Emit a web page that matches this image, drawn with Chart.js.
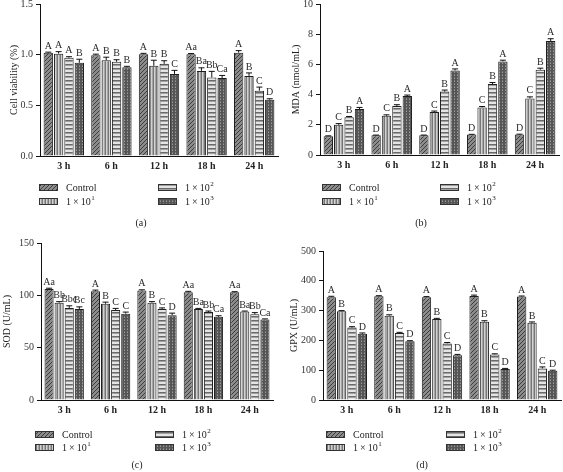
<!DOCTYPE html>
<html>
<head>
<meta charset="utf-8">
<script src="https://cdn.jsdelivr.net/npm/chart.js@4.4.0/dist/chart.umd.min.js"></script>
<style>
  body { margin: 0; background: #fff; width: 563px; height: 472px; position: relative; overflow: hidden; }
  .plot { position: absolute; }
</style>
</head>
<body>
<canvas id="chartA" class="plot"></canvas>
<canvas id="chartB" class="plot"></canvas>
<canvas id="chartC" class="plot"></canvas>
<canvas id="chartD" class="plot"></canvas>

<script>
// ---------- data ----------
const timePoints = ['3 h', '6 h', '12 h', '18 h', '24 h'];
const groupNames = ['Control', '1\u2009×\u200910', '1\u2009×\u200910', '1\u2009×\u200910'];
const groupExponents = ['', '1', '2', '3'];

// (a) cell viability — one row per group
const viabilityMeans = [
    [1.02, 0.995, 1.005, 1.005, 1.02],
    [1.01, 0.945, 0.89, 0.84, 0.79],
    [0.97, 0.93, 0.91, 0.775, 0.645],
    [0.92, 0.875, 0.81, 0.77, 0.555]
];
const viabilityErrors = [
    [0.005, 0.01, 0.008, 0.006, 0.02],
    [0.02, 0.03, 0.055, 0.03, 0.03],
    [0.01, 0.02, 0.03, 0.06, 0.035],
    [0.035, 0.01, 0.035, 0.025, 0.01]
];
const viabilityLetters = [
    ['A', 'A', 'A', 'Aa', 'A'],
    ['A', 'B', 'B', 'Ba', 'B'],
    ['A', 'B', 'B', 'Bb', 'C'],
    ['B', 'B', 'C', 'Ca', 'D']
];

// (b) MDA
const mdaMeans = [
    [1.25, 1.3, 1.3, 1.35, 1.35],
    [2.0, 2.6, 2.85, 3.15, 3.75],
    [2.5, 3.25, 4.2, 4.7, 5.65],
    [3.05, 3.9, 5.6, 6.2, 7.55]
];
const mdaErrors = [
    [0.02, 0.02, 0.02, 0.02, 0.03],
    [0.08, 0.06, 0.06, 0.06, 0.1],
    [0.05, 0.08, 0.1, 0.1, 0.1],
    [0.1, 0.07, 0.1, 0.08, 0.15]
];
const mdaLetters = [
    ['D', 'D', 'D', 'D', 'D'],
    ['C', 'C', 'C', 'C', 'C'],
    ['B', 'B', 'B', 'B', 'B'],
    ['A', 'A', 'A', 'A', 'A']
];

// (c) SOD
const sodMeans = [
    [106, 104, 104.5, 103, 103],
    [93, 92, 93, 87, 84.5],
    [88, 86, 87, 84, 82],
    [87, 82.5, 81, 79.5, 77]
];
const sodErrors = [
    [0.8, 1, 0.8, 0.8, 0.5],
    [1, 1.5, 1, 0.5, 0.5],
    [2, 1.5, 1, 1, 1.5],
    [2, 1.5, 2, 1, 0.5]
];
const sodLetters = [
    ['Aa', 'A', 'A', 'Aa', 'Aa'],
    ['Bb', 'B', 'B', 'Ba', 'Ba'],
    ['Bbc', 'C', 'C', 'Bb', 'Bb'],
    ['Bc', 'C', 'D', 'Ca', 'Ca']
];

// (d) GPX
const gpxMeans = [
    [345, 348, 345, 349, 347],
    [298, 283, 272, 263, 259],
    [243, 225, 190, 153, 106],
    [222, 197, 150, 104, 98]
];
const gpxErrors = [
    [3, 2, 2, 3, 2],
    [2, 3, 2, 3, 3],
    [3, 2, 3, 2, 5],
    [3, 2, 3, 2, 2]
];
const gpxLetters = [
    ['A', 'A', 'A', 'A', 'A'],
    ['B', 'B', 'B', 'B', 'B'],
    ['C', 'C', 'C', 'C', 'C'],
    ['D', 'D', 'D', 'D', 'D']
];

const SERIF = '"Liberation Serif"';

/* ===========================================================
   FILL PATTERNS
=========================================================== */

function makeTile(w, h, draw) {
    const c = document.createElement('canvas');
    c.width = w; c.height = h;
    draw(c.getContext('2d'));
    return c.getContext('2d').createPattern(c, 'repeat');
}

const patterns = [
    // control: dark diagonal hatch
    makeTile(4, 4, g => {
        g.fillStyle = '#8c8c8c'; g.fillRect(0, 0, 4, 4);
        g.fillStyle = '#3c3c3c';
        for (let i = 0; i < 4; i++) g.fillRect(i, 3 - i, 1, 1);
    }),
    // 1x10^1: vertical stripes
    makeTile(3, 1, g => {
        g.fillStyle = '#767676'; g.fillRect(0, 0, 1, 1);
        g.fillStyle = '#d2d2d2'; g.fillRect(1, 0, 1, 1);
        g.fillStyle = '#a6a6a6'; g.fillRect(2, 0, 1, 1);
    }),
    // 1x10^2: horizontal stripes
    makeTile(1, 4, g => {
        g.fillStyle = '#e4e4e4'; g.fillRect(0, 0, 1, 2);
        g.fillStyle = '#6a6a6a'; g.fillRect(0, 2, 1, 1);
        g.fillStyle = '#a0a0a0'; g.fillRect(0, 3, 1, 1);
    }),
    // 1x10^3: dark check
    makeTile(3, 3, g => {
        g.fillStyle = '#555'; g.fillRect(0, 0, 3, 3);
        g.fillStyle = '#9c9c9c'; g.fillRect(1, 1, 1, 1);
        g.fillStyle = '#7a7a7a'; g.fillRect(1, 0, 1, 1);
    })
];

/* ===========================================================
   PLUGINS: error bars + letters, legend + panel tag
=========================================================== */

const errorLetterPlugin = {
    id: 'errorLetters',
    afterDatasetsDraw(chart) {
        const ctx = chart.ctx;
        const yScale = chart.scales.y;
        ctx.save();
        chart.data.datasets.forEach((ds, i) => {
            const meta = chart.getDatasetMeta(i);
            meta.data.forEach((bar, j) => {
                const top = yScale.getPixelForValue(ds.data[j] + ds.errors[j]);
                ctx.strokeStyle = '#111';
                ctx.lineWidth = 1;
                ctx.beginPath();
                ctx.moveTo(bar.x, bar.y);
                ctx.lineTo(bar.x, top);
                ctx.moveTo(bar.x - 3, top);
                ctx.lineTo(bar.x + 3, top);
                ctx.stroke();

                ctx.fillStyle = '#2a2a2a';
                ctx.font = '10px ' + SERIF;
                ctx.textAlign = 'center';
                ctx.textBaseline = 'bottom';
                ctx.fillText(ds.letters[j], bar.x, top - 1);
            });
        });
        ctx.restore();
    }
};

const panelLegendPlugin = {
    id: 'panelLegend',
    afterDraw(chart, args, opts) {
        const ctx = chart.ctx;
        const spots = [[opts.cols[0], opts.rows[0]], [opts.cols[0], opts.rows[1]],
                       [opts.cols[1], opts.rows[0]], [opts.cols[1], opts.rows[1]]];
        ctx.save();
        ctx.textBaseline = 'middle';
        ctx.textAlign = 'left';
        ctx.fillStyle = '#222';
        chart.data.datasets.forEach((ds, i) => {
            const x = spots[i][0] - opts.dx;
            const y = spots[i][1] - opts.dy;
            ctx.fillStyle = patterns[i];
            ctx.fillRect(x, y - 3, 19, 7);
            ctx.strokeStyle = '#333';
            ctx.lineWidth = 1;
            ctx.strokeRect(x + 0.5, y - 2.5, 18, 6);

            ctx.fillStyle = '#222';
            ctx.font = '10px ' + SERIF;
            ctx.fillText(groupNames[i], x + 27, y + 1);
            if (groupExponents[i]) {
                const w = ctx.measureText(groupNames[i]).width;
                ctx.font = '7px ' + SERIF;
                ctx.fillText(groupExponents[i], x + 27 + w + 0.5, y - 3);
            }
        });
        ctx.font = '10px ' + SERIF;
        ctx.textAlign = 'center';
        ctx.fillText(opts.tag, opts.tagX - opts.dx, opts.tagY - opts.dy);
        ctx.restore();
    }
};

/* ===========================================================
   CHART BUILDER
=========================================================== */

function buildChart(id, box, means, errors, letters, axis, legend) {
    const el = document.getElementById(id);
    el.style.left = box.left + 'px';
    el.style.top = box.top + 'px';
    el.width = box.width;
    el.height = box.height;
    el.style.width = box.width + 'px';
    el.style.height = box.height + 'px';

    return new Chart(el.getContext('2d'), {
        type: 'bar',
        data: {
            labels: timePoints,
            datasets: means.map((vals, i) => ({
                label: groupNames[i] + groupExponents[i],
                data: vals,
                errors: errors[i],
                letters: letters[i],
                backgroundColor: patterns[i],
                borderColor: '#1e1e1e',
                borderWidth: 1,
                categoryPercentage: 0.87,
                barPercentage: 0.9
            }))
        },
        options: {
            responsive: false,
            animation: false,
            devicePixelRatio: 1,
            layout: { padding: { top: box.padTop, right: box.padRight, left: 0, bottom: box.padBottom } },
            plugins: {
                legend: { display: false },
                tooltip: { enabled: false },
                panelLegend: Object.assign({ dx: box.left, dy: box.top }, legend)
            },
            scales: {
                x: {
                    grid: { display: false, drawTicks: false },
                    border: { display: true, color: '#111', width: 1 },
                    ticks: { color: '#222', padding: 4, font: { family: 'Liberation Serif', size: 10, weight: 'bold' } },
                    afterFit: s => { s.height = box.xHeight; }
                },
                y: {
                    min: 0,
                    max: axis.max,
                    ticks: {
                        stepSize: axis.step,
                        color: '#333',
                        padding: 3,
                        font: { family: 'Liberation Serif', size: 10 },
                        callback: axis.format
                    },
                    grid: { drawOnChartArea: false, drawTicks: true, tickLength: 4, color: '#111' },
                    border: { display: true, color: '#111', width: 1 },
                    title: {
                        display: true,
                        text: axis.title,
                        color: '#222',
                        font: { family: 'Liberation Serif', size: 10 },
                        padding: { top: axis.titlePad, bottom: 0 }
                    },
                    afterFit: s => { s.width = box.yWidth; }
                }
            }
        },
        plugins: [errorLetterPlugin, panelLegendPlugin]
    });
}

buildChart('chartA',
    { left: 0, top: -10, width: 282, height: 245, padTop: 14, padRight: 4, padBottom: 55, xHeight: 24, yWidth: 40 },
    viabilityMeans, viabilityErrors, viabilityLetters,
    { max: 1.5, step: 0.5, title: 'Cell viability (%)', titlePad: 8, format: v => v.toFixed(1) },
    { cols: [39, 158], rows: [187, 201], tag: '(a)', tagX: 141, tagY: 223 });

buildChart('chartB',
    { left: 282, top: -10, width: 281, height: 245, padTop: 14, padRight: 4, padBottom: 55, xHeight: 25, yWidth: 38 },
    mdaMeans, mdaErrors, mdaLetters,
    { max: 10, step: 2, title: 'MDA (nmol/mL)', titlePad: 8, format: v => v },
    { cols: [322, 440], rows: [187, 201], tag: '(b)', tagX: 421, tagY: 223 });

buildChart('chartC',
    { left: 0, top: 226, width: 282, height: 246, padTop: 17, padRight: 9, padBottom: 56, xHeight: 16, yWidth: 41 },
    sodMeans, sodErrors, sodLetters,
    { max: 150, step: 50, title: 'SOD (U/mL)', titlePad: 1, format: v => v },
    { cols: [35, 155], rows: [434, 447], tag: '(c)', tagX: 137, tagY: 465 });

buildChart('chartD',
    { left: 282, top: 226, width: 281, height: 246, padTop: 25, padRight: 2, padBottom: 56, xHeight: 16, yWidth: 41 },
    gpxMeans, gpxErrors, gpxLetters,
    { max: 500, step: 100, title: 'GPX (U/mL)', titlePad: 6, format: v => v },
    { cols: [326, 446], rows: [434, 447], tag: '(d)', tagX: 422, tagY: 465 });
</script>
</body>
</html>
